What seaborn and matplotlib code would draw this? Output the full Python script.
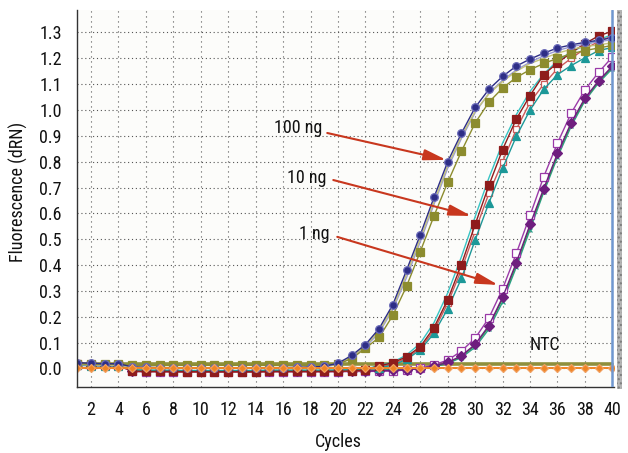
import matplotlib
matplotlib.use("Agg")
import matplotlib.pyplot as plt
from matplotlib import font_manager as fm
from matplotlib.patches import Rectangle
from matplotlib.ticker import MultipleLocator
import pandas as pd
import seaborn as sns

cycles = list(range(1, 41))

# 100 ng replicates
ng100_a = [0.022, 0.020, 0.018, 0.018, 0.006, 0.004, 0.003, 0.002, 0.001, 0.001, 0.001, 0.001, 0.001, 0.002, 0.002, 0.003, 0.004, 0.005,
           0.008, 0.020, 0.050, 0.092, 0.154, 0.247, 0.380, 0.517, 0.662, 0.800, 0.910, 1.010, 1.080, 1.130, 1.170, 1.197, 1.220, 1.240,
           1.252, 1.262, 1.270, 1.280]
ng100_b = [0.018, 0.016, 0.016, 0.016, 0.012, 0.012, 0.012, 0.012, 0.012, 0.012, 0.012, 0.012, 0.012, 0.012, 0.012, 0.012, 0.012, 0.012,
           0.013, 0.016, 0.038, 0.078, 0.120, 0.205, 0.318, 0.452, 0.590, 0.720, 0.840, 0.950, 1.030, 1.085, 1.126, 1.156, 1.180, 1.200,
           1.218, 1.230, 1.240, 1.250]
ng100_c = [0.015, 0.014, 0.013, 0.013, 0.004, 0.003, 0.002, 0.002, 0.001, 0.001, 0.001, 0.001, 0.001, 0.001, 0.002, 0.002, 0.003, 0.004,
           0.006, 0.015, 0.043, 0.083, 0.138, 0.228, 0.352, 0.490, 0.635, 0.775, 0.890, 0.990, 1.065, 1.115, 1.155, 1.185, 1.210, 1.230,
           1.245, 1.255, 1.265, 1.272]
ng100_d = [0.015, 0.014, 0.013, 0.013, 0.006, 0.005, 0.004, 0.004, 0.003, 0.003, 0.003, 0.003, 0.003, 0.003, 0.004, 0.004, 0.005, 0.006,
           0.008, 0.018, 0.045, 0.087, 0.145, 0.235, 0.365, 0.502, 0.645, 0.785, 0.898, 0.995, 1.062, 1.110, 1.150, 1.180, 1.200, 1.220,
           1.235, 1.245, 1.252, 1.260]

# 10 ng replicates
ng10_a = [0.016, 0.015, 0.014, 0.014, -0.010, -0.012, -0.012, -0.012, -0.013, -0.013, -0.013, -0.013, -0.013, -0.013, -0.012, -0.012, -0.012, -0.012,
          -0.012, -0.011, -0.010, -0.006, 0.010, 0.022, 0.045, 0.084, 0.158, 0.266, 0.402, 0.557, 0.708, 0.847, 0.965, 1.056, 1.137, 1.182,
          1.222, 1.257, 1.287, 1.305]
ng10_b = [0.012, 0.011, 0.010, 0.010, -0.006, -0.008, -0.008, -0.008, -0.009, -0.009, -0.009, -0.009, -0.009, -0.009, -0.008, -0.008, -0.008, -0.008,
          -0.008, -0.007, -0.006, -0.004, 0.003, 0.012, 0.035, 0.071, 0.136, 0.231, 0.348, 0.497, 0.640, 0.774, 0.898, 1.000, 1.080, 1.137,
          1.172, 1.202, 1.230, 1.242]
ng10_c = [0.014, 0.013, 0.012, 0.012, -0.012, -0.013, -0.013, -0.014, -0.014, -0.014, -0.014, -0.014, -0.014, -0.014, -0.013, -0.013, -0.013, -0.013,
          -0.013, -0.012, -0.011, -0.008, 0.004, 0.016, 0.040, 0.077, 0.147, 0.252, 0.382, 0.532, 0.677, 0.800, 0.925, 1.030, 1.100, 1.160,
          1.200, 1.237, 1.265, 1.287]
ng10_d = [0.015, 0.014, 0.013, 0.013, -0.008, -0.009, -0.009, -0.010, -0.010, -0.010, -0.010, -0.010, -0.010, -0.010, -0.009, -0.009, -0.009, -0.009,
          -0.009, -0.008, -0.007, -0.003, 0.012, 0.024, 0.052, 0.097, 0.177, 0.292, 0.432, 0.587, 0.737, 0.872, 0.982, 1.072, 1.140, 1.190,
          1.225, 1.250, 1.272, 1.292]

# 1 ng replicates
ng1_a = [0.014, 0.013, 0.012, 0.012, -0.012, -0.013, -0.013, -0.014, -0.014, -0.014, -0.014, -0.014, -0.014, -0.014, -0.013, -0.013, -0.013, -0.013,
         -0.013, -0.013, -0.012, -0.012, -0.011, -0.010, -0.006, 0.001, 0.014, 0.032, 0.067, 0.117, 0.195, 0.308, 0.445, 0.592, 0.742, 0.872,
         0.988, 1.078, 1.146, 1.205]
ng1_b = [0.012, 0.011, 0.010, 0.010, -0.010, -0.011, -0.011, -0.012, -0.012, -0.012, -0.012, -0.012, -0.012, -0.012, -0.011, -0.011, -0.011, -0.011,
         -0.011, -0.011, -0.010, -0.010, -0.009, -0.008, -0.005, -0.001, 0.009, 0.023, 0.049, 0.093, 0.166, 0.275, 0.409, 0.557, 0.696, 0.832,
         0.951, 1.046, 1.113, 1.170]
ng1_c = [0.015, 0.014, 0.013, 0.013, -0.006, -0.007, -0.007, -0.008, -0.008, -0.008, -0.008, -0.008, -0.008, -0.008, -0.007, -0.007, -0.007, -0.007,
         -0.007, -0.007, -0.006, -0.006, -0.006, -0.005, -0.004, -0.002, 0.006, 0.019, 0.042, 0.082, 0.152, 0.257, 0.392, 0.537, 0.682, 0.817,
         0.937, 1.036, 1.105, 1.160]
ng1_d = [0.013, 0.012, 0.011, 0.011, -0.008, -0.009, -0.009, -0.010, -0.010, -0.010, -0.010, -0.010, -0.010, -0.010, -0.009, -0.009, -0.009, -0.009,
         -0.009, -0.009, -0.008, -0.008, -0.008, -0.007, -0.005, -0.001, 0.008, 0.021, 0.046, 0.089, 0.161, 0.269, 0.402, 0.549, 0.690, 0.826,
         0.946, 1.041, 1.110, 1.166]

# no-template controls
ntc_a = [0.016, 0.016, 0.016, 0.016, 0.016, 0.016, 0.016, 0.016, 0.016, 0.016, 0.016, 0.016, 0.016, 0.016, 0.016, 0.016, 0.016, 0.016, 0.016, 0.016,
         0.016, 0.016, 0.016, 0.016, 0.016, 0.016, 0.016, 0.016, 0.016, 0.016, 0.016, 0.016, 0.016, 0.016, 0.016, 0.016, 0.016, 0.016, 0.016, 0.016]
ntc_b = [0.002, 0.002, 0.002, 0.002, 0.002, 0.002, 0.002, 0.002, 0.002, 0.002, 0.002, 0.002, 0.002, 0.002, 0.002, 0.002, 0.002, 0.002, 0.002, 0.002,
         0.002, 0.002, 0.002, 0.002, 0.002, 0.002, 0.002, 0.002, 0.002, 0.002, 0.002, 0.002, 0.002, 0.002, 0.002, 0.002, 0.002, 0.002, 0.002, 0.002]

x_tick_labels = [str(c) for c in range(2, 41, 2)]
y_ticks = [round(0.1 * i, 1) for i in range(0, 14)]

df = pd.DataFrame({"cycle": cycles,
                   "ntc_a": ntc_a,
                   "ng1_c": ng1_c, "ng1_d": ng1_d, "ng1_a": ng1_a, "ng1_b": ng1_b,
                   "ng10_d": ng10_d, "ng10_c": ng10_c, "ng10_b": ng10_b, "ng10_a": ng10_a,
                   "ng100_c": ng100_c, "ng100_d": ng100_d, "ng100_b": ng100_b, "ng100_a": ng100_a,
                   "ntc_b": ntc_b})

styles = {
    "ntc_a":   dict(color="#8f8f3c", lw=2.6, marker=None),
    "ng1_c":   dict(color="#2aa08a", lw=1.0, marker="x", ms=3.5, mfc="#2aa08a", mec="#2aa08a"),
    "ng1_d":   dict(color="#3a9a50", lw=1.0, marker=None),
    "ng1_a":   dict(color="#9a3aa8", lw=1.0, marker="s", ms=5.5, mfc="white", mec="#9a3aa8"),
    "ng1_b":   dict(color="#6e1e7e", lw=1.0, marker="D", ms=5.0, mfc="#6e1e7e", mec="#6e1e7e"),
    "ng10_d":  dict(color="#38c4c4", lw=1.0, marker=None),
    "ng10_c":  dict(color="#cc5a5a", lw=1.0, marker="s", ms=5.0, mfc="white", mec="#cc5a5a"),
    "ng10_b":  dict(color="#1c9898", lw=1.0, marker="^", ms=6.0, mfc="#1c9898", mec="#1c9898"),
    "ng10_a":  dict(color="#8e1c1c", lw=1.0, marker="s", ms=5.5, mfc="#8e1c1c", mec="#8e1c1c"),
    "ng100_c": dict(color="#9a9ad4", lw=1.0, marker=None),
    "ng100_d": dict(color="#c4c47a", lw=1.0, marker=None),
    "ng100_b": dict(color="#8c8c2e", lw=1.0, marker="s", ms=6.0, mfc="#8c8c2e", mec="#8c8c2e"),
    "ng100_a": dict(color="#2e2e86", lw=1.0, marker="o", ms=5.5, mfc="#2e2e86", mec="#6a6ab8"),
    "ntc_b":   dict(color="#f08424", lw=1.4, marker="D", ms=4.5, mfc="#f08424", mec="#f0a060"),
}

sns.set_theme(style="white")

# pick a condensed face if one is installed
names = {f.name for f in fm.fontManager.ttflist}
family = None
for cand in ["Liberation Sans Narrow", "Roboto Condensed", "Open Sans Condensed", "DejaVu Sans Condensed",
             "Noto Sans Condensed", "Roboto"]:
    if cand in names:
        family = cand
        break
stretch = "normal"
if family is None or family == "Roboto":
    cond = [f for f in fm.fontManager.ttflist if f.name in ("DejaVu Sans", "Noto Sans", "Open Sans")
            and str(f.stretch) in ("condensed", "semi-condensed", "extra-condensed", "500", "300", "400")
            and f.style == "normal" and f.weight in (400, "normal", "regular")]
    if cond:
        family = cond[0].name
        stretch = cond[0].stretch
if family is None:
    family = "DejaVu Sans"
plt.rcParams["font.family"] = [family, "DejaVu Sans"]
plt.rcParams["font.stretch"] = stretch

fig = plt.figure(figsize=(6.28, 4.53), dpi=100)
fig.patch.set_facecolor("white")
W, H = 628, 453
ax = fig.add_axes([77 / W, 1 - 387 / H, (614 - 77) / W, 377 / H])
ax.set_facecolor("#fcfcfa")

for name, st in styles.items():
    kw = dict(color=st["color"], linewidth=st["lw"])
    if st["marker"]:
        kw.update(marker=st["marker"], markersize=st["ms"], markerfacecolor=st["mfc"],
                  markeredgecolor=st["mec"], markeredgewidth=0.9)
    sns.lineplot(data=df, x="cycle", y=name, ax=ax, legend=False, **kw)

ax.set_xlim(0.98, 40.12)
ax.set_ylim(-0.072, 1.387)

ax.set_xticks(list(range(2, 41, 2)))
ax.set_xticklabels(x_tick_labels)
ax.xaxis.set_minor_locator(MultipleLocator(1))
ax.set_yticks(y_ticks)
ax.set_yticklabels([f"{v:.1f}" for v in y_ticks])
ax.yaxis.set_minor_locator(MultipleLocator(0.05))

ax.tick_params(axis="both", which="both", direction="out", length=3, width=1, color="#333333",
               labelsize=13, labelcolor="#111111")
ax.tick_params(axis="x", which="major", pad=7)
ax.tick_params(axis="y", which="major", pad=8)

for y in y_ticks:
    ax.axhline(y, color="#555555", lw=0.8, ls=(0, (1, 2.5)), zorder=0)
for x in range(2, 41, 2):
    ax.axvline(x, color="#555555", lw=0.8, ls=(0, (1, 3.5)), zorder=0)

for s in ["top", "right"]:
    ax.spines[s].set_visible(False)
for s in ["left", "bottom"]:
    ax.spines[s].set_color("#333333")
    ax.spines[s].set_linewidth(1.0)

ax.axvline(40, color="#6f97d0", lw=1.8, zorder=5)

ax.set_xlabel("Cycles", fontsize=13, color="#111111")
ax.set_ylabel("Fluorescence (dRN)", fontsize=13, color="#111111")
ax.xaxis.set_label_coords(0.486, -0.122)
ax.yaxis.set_label_coords(-0.091, 0.517)

arrow_color = "#c8371e"
labels = [("100 ng", 17.11, 0.931, 19.22, 0.911, 27.9, 0.807),
          ("10 ng", 17.69, 0.737, 19.66, 0.729, 29.72, 0.590),
          ("1 ng", 18.27, 0.520, 19.95, 0.509, 31.68, 0.323)]
for txt, tx, ty, sx, sy, hx, hy in labels:
    ax.text(tx, ty, txt, fontsize=13, ha="center", va="center", color="#111111", zorder=8)
    ax.annotate("", xy=(hx, hy), xytext=(sx, sy),
                arrowprops=dict(arrowstyle="-|>,head_length=0.9,head_width=0.22", color=arrow_color,
                                lw=1.5, shrinkA=0, shrinkB=0, mutation_scale=15), zorder=8)
ax.text(35.11, 0.091, "NTC", fontsize=13, ha="center", va="center", color="#111111", zorder=8)

fig.patches.append(Rectangle((617 / W, 1 - 389 / H), 5 / W, 379 / H, transform=fig.transFigure,
                             facecolor="#b4b4b4", edgecolor="#7a7a7a", hatch="....", lw=0))

fig.savefig("out.png", dpi=100)
